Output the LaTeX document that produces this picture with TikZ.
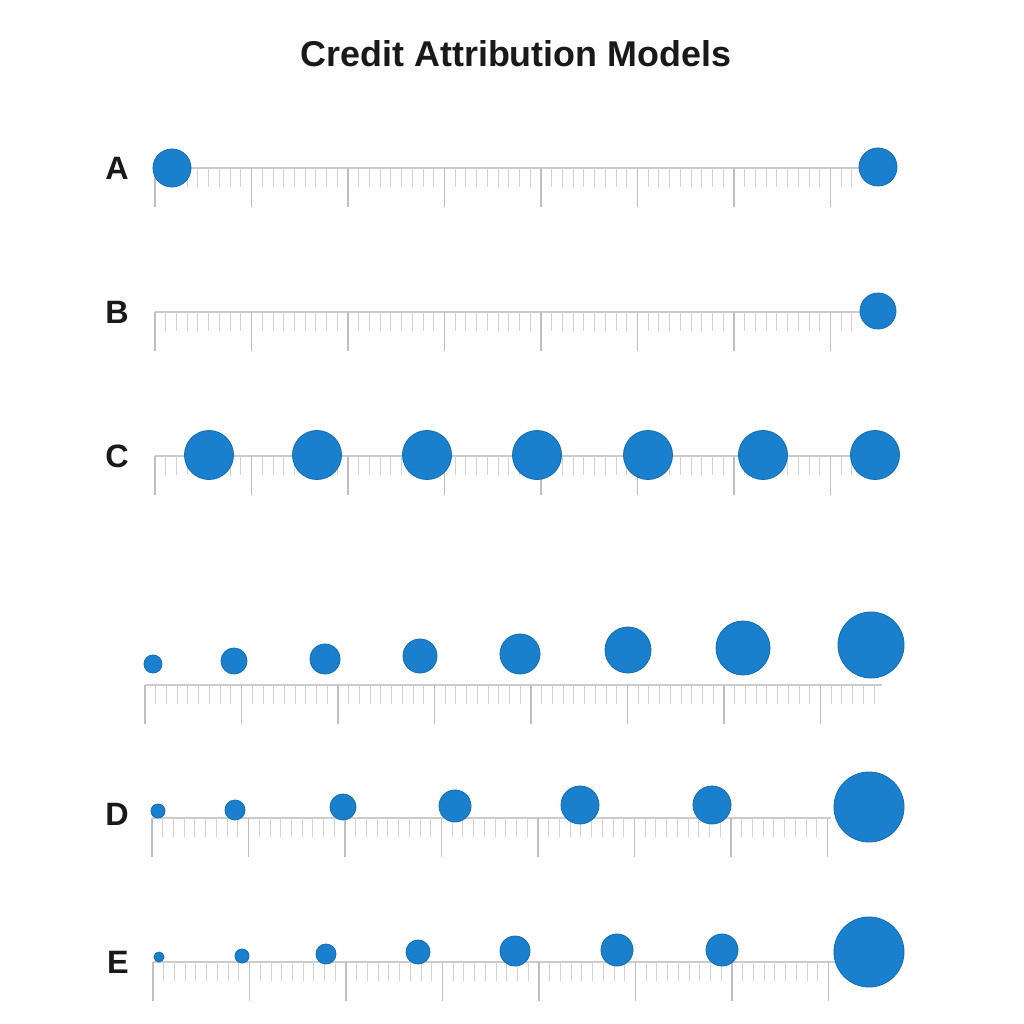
\documentclass[tikz,border=0pt]{standalone}
\usepackage{fontspec}
\setmainfont{Liberation Sans}
\usepackage{xcolor}
\usepackage{tikz}
\usetikzlibrary{positioning}
\definecolor{creditblue}{RGB}{26,128,206}
\definecolor{creditedge}{RGB}{20,110,180}
\tikzset{
  % Rulers
  ruler-line/.style={draw=gray!40, line width=1.1pt},
  ruler-major/.style={draw=gray!50, line width=1pt},
  ruler-minor/.style={draw=gray!35, line width=0.6pt},
  % Credit dots
  credit-dot/.style={circle, fill=creditblue, draw=creditedge, line width=0.6pt, inner sep=0pt},
  dot r/.style={minimum size=#1*0.5mm},
  row-label/.style={font=\bfseries\fontsize{23}{27}\selectfont, text=black!90}
}
% ruler at height #1 from x=#2 to x=#3
\newcommand{\creditruler}[3]{%
  \draw[ruler-line] (#2,#1) -- (#3,#1);
  \pgfmathtruncatemacro\nminor{(#3-#2)/10.72}
  \pgfmathtruncatemacro\nmajor{(#3-#2)/96.5}
  \foreach \j in {1,...,\nminor} \draw[ruler-minor] ({#2+10.72*\j},#1) -- ++(0,19);
  \foreach \i in {0,...,\nmajor} \draw[ruler-major] ({#2+96.5*\i},#1) -- ++(0,39);
}
\begin{document}
\begin{tikzpicture}[x=0.025cm, y=-0.025cm]
    \useasboundingbox (0,0) rectangle (1024,1024);
    \node[font=\bfseries\fontsize{25.5}{30}\selectfont, text=black!90] (title) at (516,54) {Credit Attribution Models};

    % --- A: first touch and last touch ---
    \node[row-label] (la) at (117,168) {A};
    \creditruler{168}{155}{862}
    \node[credit-dot, dot r=19] (a1) at (172,168) {};
    \node[credit-dot, dot r=19] (a2) at (878,167) {};

    % --- B: last touch ---
    \node[row-label] (lb) at (117,312) {B};
    \creditruler{312}{155}{862}
    \node[credit-dot, dot r=18] (b1) at (878,311) {};

    % --- C: linear ---
    \node[row-label] (lc) at (117,456) {C};
    \creditruler{456}{155}{858}
    \foreach \x [count=\k] in {209,317,427,537,648,763,875}
        \node[credit-dot, dot r=24.5] (c\k) at (\x,455) {};

    % --- unlabeled: growing ---
    \creditruler{685}{145}{882}
    \foreach \x/\y/\r [count=\k] in {153/664/9, 234/661/13, 325/659/15, 420/656/17,
        520/654/20, 628/650/23, 743/648/27, 871/645/33}
        \node[credit-dot, dot r=\r] (g\k) at (\x,\y) {};

    % --- D: time decay ---
    \node[row-label] (ld) at (117,814) {D};
    \creditruler{818}{152}{831}
    \foreach \x/\y/\r [count=\k] in {158/811/7, 235/810/10, 343/807/13, 455/806/16,
        580/805/19, 712/805/19, 869/807/35}
        \node[credit-dot, dot r=\r] (d\k) at (\x,\y) {};

    % --- E: last heavy ---
    \node[row-label] (le) at (118,962) {E};
    \creditruler{962}{153}{835}
    \foreach \x/\y/\r [count=\k] in {159/957/5, 242/956/7, 326/954/10, 418/952/12,
        515/951/15, 617/950/16, 722/950/16, 869/952/35}
        \node[credit-dot, dot r=\r] (e\k) at (\x,\y) {};
\end{tikzpicture}
\end{document}
